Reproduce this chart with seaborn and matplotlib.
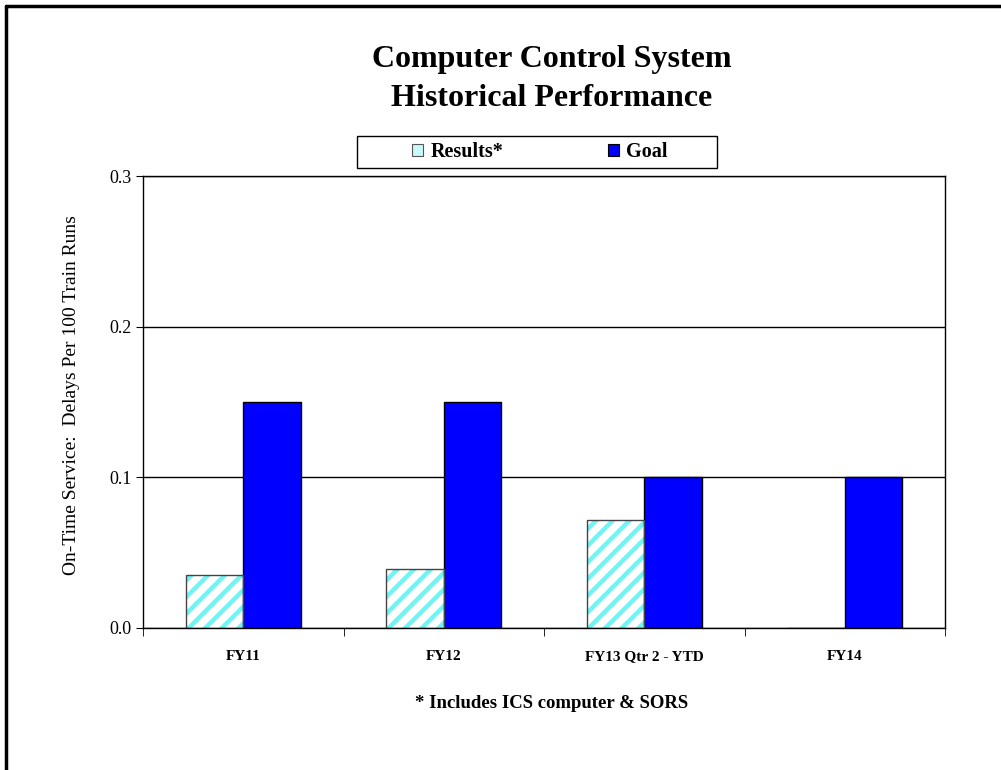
import pandas as pd
import matplotlib
matplotlib.use("Agg")
import matplotlib.pyplot as plt
from matplotlib.patches import Rectangle
from matplotlib.lines import Line2D
import seaborn as sns

categories = ['FY11', 'FY12', 'FY13 Qtr 2 - YTD', 'FY14']
results = [0.035, 0.039, 0.072, 0.0]
goal = [0.15, 0.15, 0.10, 0.10]
series = ['Results*', 'Goal']
y_ticks = [0.0, 0.1, 0.2, 0.3]


def main():
    df = pd.DataFrame({
        'category': categories * 2,
        'series': [series[0]] * len(categories) + [series[1]] * len(categories),
        'value': results + goal,
    })

    sns.set_style('white')
    plt.rcParams['font.family'] = ['Liberation Serif', 'DejaVu Serif']
    plt.rcParams['hatch.linewidth'] = 3.2
    for key in ['text.color', 'axes.labelcolor', 'xtick.color', 'ytick.color']:
        plt.rcParams[key] = 'black'

    fig = plt.figure(figsize=(10.01, 7.70), dpi=100)
    ax = fig.add_axes([143 / 1001, 1 - 628 / 770, 802 / 1001, 452 / 770])

    sns.barplot(data=df, x='category', y='value', hue='series', order=categories,
                hue_order=series, palette={series[0]: 'white', series[1]: '#0000FF'},
                width=0.575, saturation=1, edgecolor='black', linewidth=1.0,
                legend=False, ax=ax)

    # results bars: cyan stripes with a dark outline on top
    n = len(categories)
    for p in ax.patches[:n]:
        p.set_hatch('//')
        p.set_edgecolor('#70F4F4')
        p.set_linewidth(0)
        ax.add_patch(Rectangle(p.get_xy(), p.get_width(), p.get_height(),
                               fill=False, edgecolor='#444444', linewidth=1.0))

    ax.set_ylim(0, 0.3)
    ax.set_xlim(-0.5, n - 0.5)
    ax.set_yticks(y_ticks)
    ax.set_yticklabels([f'{v:.1f}' for v in y_ticks], fontsize=13)
    ax.yaxis.grid(True, color='black', linewidth=1.0)
    ax.set_axisbelow(True)
    ax.tick_params(axis='y', which='major', direction='out', length=5, left=True,
                   pad=3)

    ax.set_xticks(range(n))
    ax.set_xticklabels(categories, fontsize=11, fontweight='bold')
    ax.set_xticks([i - 0.5 for i in range(n + 1)], minor=True)
    ax.tick_params(axis='x', which='major', length=0, pad=16)
    ax.tick_params(axis='x', which='minor', direction='out', length=6, bottom=True)

    for side in ['left', 'right', 'top', 'bottom']:
        ax.spines[side].set_visible(True)
        ax.spines[side].set_color('black')
        ax.spines[side].set_linewidth(1.0)

    ax.set_xlabel('')
    ax.set_ylabel('On-Time Service:  Delays Per 100 Train Runs', fontsize=14)
    ax.yaxis.set_label_coords(-0.078, 0.515)

    fig.text(552 / 1001, 1 - 59 / 770, 'Computer Control System', ha='center',
             va='center', fontsize=23, fontweight='bold')
    fig.text(552 / 1001, 1 - 98 / 770, 'Historical Performance', ha='center',
             va='center', fontsize=23, fontweight='bold')
    fig.text(552 / 1001, 1 - 703 / 770, '* Includes ICS computer & SORS', ha='center',
             va='center', fontsize=13.5, fontweight='bold')

    handles = [
        Rectangle((0, 0), 1, 1, facecolor='#C8F8F8', edgecolor='#555555',
                  linewidth=0.8),
        Rectangle((0, 0), 1, 1, facecolor='#0000FF', edgecolor='black', linewidth=0.8),
    ]
    # legend frame drawn separately so it can be wider than its entries
    fig.add_artist(Rectangle((357 / 1001, 1 - 168 / 770), 360 / 1001, 32 / 770,
                             transform=fig.transFigure, facecolor='white',
                             edgecolor='black', linewidth=1.0, zorder=4))
    leg = fig.legend(handles, series, loc='center', ncol=2,
                     bbox_to_anchor=(540 / 1001, 1 - 152 / 770),
                     prop={'family': 'Liberation Serif', 'weight': 'bold', 'size': 14.5},
                     frameon=False, handlelength=0.55, handleheight=0.55,
                     handletextpad=0.35, columnspacing=5.2, borderpad=0,
                     borderaxespad=0)
    leg.set_zorder(5)

    # page border (top and left)
    fig.add_artist(Line2D([6 / 1001, 6 / 1001], [0, 1 - 6 / 770], color='black',
                          linewidth=2.5, transform=fig.transFigure))
    fig.add_artist(Line2D([6 / 1001, 1], [1 - 6 / 770, 1 - 6 / 770], color='black',
                          linewidth=2.5, transform=fig.transFigure))

    fig.savefig('out.png', dpi=100)


if __name__ == "__main__":
    main()
